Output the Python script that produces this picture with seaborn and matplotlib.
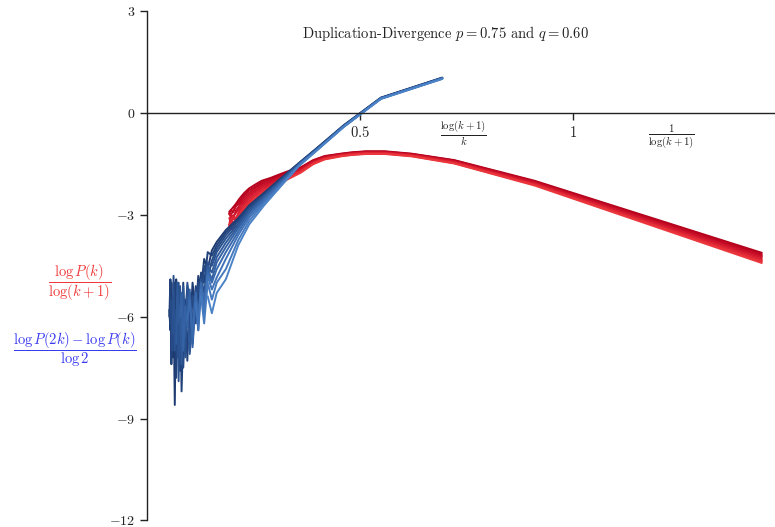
import numpy as np
import pandas as pd
import matplotlib
matplotlib.use("Agg")
import matplotlib.pyplot as plt
import seaborn as sns

# ---------------- data ----------------
title_text = r"Duplication-Divergence $p=0.75$ and $q=0.60$"
yticks = [-12, -9, -6, -3, 0, 3]
ytick_labels = [r"$-12$", r"$-9$", r"$-6$", r"$-3$", r"$0$", r"$3$"]
xticks = [0.5, 1.0]
xtick_labels = [r"$0.5$", r"$1$"]

# blue: x = log(k+1)/k  (k = 1,2,3,4,5,6,8,10,12,15,18,20,22,...,85)
blue_x = [0.693, 0.549, 0.462, 0.402, 0.358, 0.324, 0.275, 0.240, 0.214, 0.185,
          0.1636, 0.1522, 0.1425, 0.1341, 0.1268, 0.1203, 0.1145, 0.1069, 0.1003, 0.0946,
          0.0896, 0.0851, 0.0811, 0.0775, 0.0742, 0.0712, 0.0685, 0.0652, 0.0623, 0.0596,
          0.0572, 0.0549, 0.0524]
blue_1 = [1.04, 0.45, -0.36, -1.0, -1.46, -1.82, -2.35, -2.72, -3.1, -3.45, -3.8, -4.05,
          -4.6, -4.3, -5.2, -4.8, -5.9, -5.0, -6.5, -5.2, -7.0, -5.0, -6.2, -7.6, -5.3,
          -6.8, -4.9, -8.6, -5.6, -7.2, -5.0, -6.4, -5.8]
blue_2 = [1.03, 0.44, -0.37, -1.01, -1.47, -1.84, -2.38, -2.76, -3.15, -3.52, -3.9, -4.2,
          -4.1, -5.0, -4.7, -5.6, -5.1, -6.6, -5.3, -7.3, -5.5, -6.4, -8.2, -5.2, -7.0,
          -5.6, -7.8, -5.0, -6.6, -5.4, -7.4, -4.9, -6.0]
blue_3 = [1.03, 0.44, -0.38, -1.02, -1.48, -1.86, -2.41, -2.8, -3.2, -3.6, -4.0, -4.35,
          -4.9, -4.5, -5.6, -5.0, -6.2, -5.4, -7.0, -5.1, -6.0, -7.5, -5.4, -6.3, -5.0,
          -7.2, -5.8, -6.6, -4.8, -7.0, -5.5, -6.2]
blue_4 = [1.02, 0.43, -0.38, -1.03, -1.49, -1.88, -2.44, -2.85, -3.27, -3.7, -4.1, -4.5,
          -4.4, -5.3, -4.9, -6.0, -5.2, -6.8, -5.6, -5.0, -7.2, -5.5, -6.4, -5.1, -7.9,
          -5.6, -6.0, -7.0, -5.2, -6.5]
blue_5 = [1.02, 0.43, -0.39, -1.04, -1.5, -1.9, -2.47, -2.9, -3.33, -3.82, -4.25, -4.7,
          -4.5, -5.6, -5.0, -6.4, -5.3, -6.0, -7.1, -5.4, -6.6, -5.1, -7.4, -5.7, -6.2,
          -5.0, -6.8]
blue_6 = [1.02, 0.43, -0.39, -1.04, -1.51, -1.92, -2.5, -2.95, -3.4, -3.95, -4.4, -4.9,
          -4.6, -5.8, -5.1, -6.1, -5.4, -6.9, -5.2, -6.3, -5.7, -7.0, -5.3, -6.0]
blue_7 = [1.01, 0.42, -0.4, -1.05, -1.52, -1.95, -2.55, -3.0, -3.5, -4.1, -4.6, -5.0,
          -4.7, -5.6, -5.0, -6.2, -5.3, -6.6, -5.5, -6.1]
blue_8 = [1.01, 0.42, -0.4, -1.06, -1.53, -1.97, -2.6, -3.08, -3.6, -4.3, -4.85, -5.2,
          -4.8, -5.9, -5.2, -6.4, -5.6]
blue_9 = [1.01, 0.42, -0.41, -1.06, -1.54, -2.0, -2.65, -3.18, -3.75, -4.6, -5.0, -5.5,
          -5.0, -6.2, -5.4]
blue_10 = [1.0, 0.41, -0.41, -1.07, -1.55, -2.02, -2.72, -3.28, -3.9, -4.9, -5.3, -5.9,
           -5.4]
blue_series = [blue_1, blue_2, blue_3, blue_4, blue_5, blue_6, blue_7, blue_8, blue_9, blue_10]
blue_colors = ["#1d3b70", "#21427a", "#254a85", "#2a5290", "#2f5a9a",
               "#3462a4", "#3a6aae", "#4072b8", "#467abe", "#4c82c6"]

# red: x = 1/log(k+1)  (k = 1,2,3,4,5,6,7,8,10,12,15,20,25,30,40,50,65,80,100,120,140,160,175)
red_x = [1.443, 0.910, 0.721, 0.621, 0.558, 0.514, 0.481, 0.455, 0.417, 0.390, 0.361,
         0.328, 0.307, 0.291, 0.269, 0.254, 0.239, 0.228, 0.2167, 0.2085, 0.2021, 0.1968, 0.1931]
red_1 = [-4.12, -2.00, -1.39, -1.20, -1.13, -1.13, -1.16, -1.20, -1.27, -1.39, -1.60, -1.73,
         -1.83, -1.91, -2.00, -2.11, -2.23, -2.36, -2.53, -2.68, -2.78, -2.86, -2.91]
red_2 = [-4.16, -2.02, -1.40, -1.21, -1.14, -1.14, -1.17, -1.21, -1.28, -1.41, -1.62, -1.76,
         -1.87, -1.95, -2.05, -2.17, -2.29, -2.43, -2.60, -2.75, -2.92, -2.86, -2.97]
red_3 = [-4.20, -2.04, -1.42, -1.22, -1.15, -1.15, -1.18, -1.22, -1.30, -1.42, -1.64, -1.79,
         -1.91, -2.00, -2.10, -2.22, -2.36, -2.50, -2.67, -2.74, -2.91, -2.99, -2.95]
red_4 = [-4.23, -2.05, -1.43, -1.23, -1.16, -1.16, -1.19, -1.23, -1.31, -1.44, -1.66, -1.82,
         -1.94, -2.04, -2.15, -2.28, -2.42, -2.56, -2.73, -2.88, -3.12, -3.06, -2.98]
red_5 = [-4.27, -2.07, -1.44, -1.24, -1.17, -1.17, -1.20, -1.24, -1.32, -1.45, -1.68, -1.85,
         -1.98, -2.08, -2.20, -2.33, -2.48, -2.63, -2.80, -2.95, -3.04, -3.00, -3.30]
red_6 = [-4.31, -2.09, -1.45, -1.25, -1.18, -1.18, -1.21, -1.25, -1.33, -1.47, -1.70, -1.88,
         -2.02, -2.12, -2.25, -2.39, -2.54, -2.70, -2.87, -3.14, -3.11, -3.19, -3.10]
red_7 = [-4.35, -2.11, -1.47, -1.26, -1.19, -1.19, -1.22, -1.26, -1.35, -1.48, -1.72, -1.91,
         -2.06, -2.17, -2.30, -2.44, -2.61, -2.77, -2.94, -3.09, -3.05, -3.38, -3.29]
red_8 = [-4.38, -2.12, -1.48, -1.27, -1.20, -1.20, -1.23, -1.27, -1.36, -1.50, -1.74, -1.94,
         -2.09, -2.21, -2.35, -2.50, -2.67, -2.83, -3.00, -3.15, -3.24, -3.20, -3.35]
red_9 = [-4.42, -2.14, -1.49, -1.28, -1.21, -1.21, -1.24, -1.28, -1.37, -1.51, -1.76, -1.97,
         -2.13, -2.25, -2.40, -2.55, -2.73, -2.90, -3.07, -3.22, -3.45, -3.38, -3.30]
red_series = [red_1, red_2, red_3, red_4, red_5, red_6, red_7, red_8, red_9]
red_colors = ["#b3001b", "#ba0520", "#c20a24", "#c91028", "#d0162d",
              "#d81e31", "#df2634", "#e52e38", "#eb363c"]

label_red = r"$\dfrac{\log P(k)}{\log(k+1)}$"
label_blue = r"$\dfrac{\log P(2k)-\log P(k)}{\log 2}$"
label_x1 = r"$\frac{\log(k+1)}{k}$"
label_x2 = r"$\frac{1}{\log(k+1)}$"

# ---------------- build tables ----------------
rows = []
for i, ys in enumerate(red_series):
    for j, y in enumerate(ys):
        rows.append({"curve": f"r{i}", "x": red_x[j], "y": y})
red_df = pd.DataFrame(rows)
rows = []
for i, ys in enumerate(blue_series):
    for j, y in enumerate(ys):
        rows.append({"curve": f"b{i}", "x": blue_x[j], "y": y})
blue_df = pd.DataFrame(rows)

# ---------------- style ----------------
sns.set_style("white")
plt.rcParams["font.family"] = ["serif"]
plt.rcParams["font.serif"] = ["cmr10", "DejaVu Serif"]
plt.rcParams["mathtext.fontset"] = "cm"
plt.rcParams["axes.formatter.use_mathtext"] = True

fig = plt.figure(figsize=(7.75, 5.27), dpi=100)
ax = fig.add_axes([0.1897, 0.0125, 0.8103, 0.9666])

sns.lineplot(data=red_df, x="x", y="y", units="curve", hue="curve",
             palette=dict(zip([f"r{i}" for i in range(len(red_series))], red_colors)),
             estimator=None, sort=False, legend=False, lw=1.4, ax=ax)
sns.lineplot(data=blue_df, x="x", y="y", units="curve", hue="curve",
             palette=dict(zip([f"b{i}" for i in range(len(blue_series))], blue_colors)),
             estimator=None, sort=False, legend=False, lw=1.4, ax=ax)

ax.set_xlim(0, 1.474)
ax.set_ylim(-12, 3)
ax.spines["top"].set_visible(False)
ax.spines["right"].set_visible(False)
ax.spines["bottom"].set_position(("data", 0))
for s in ("left", "bottom"):
    ax.spines[s].set_color("#222222")
    ax.spines[s].set_linewidth(1.0)
ax.set_yticks(yticks)
ax.set_yticklabels(ytick_labels, fontsize=10)
ax.set_xticks(xticks)
ax.set_xticklabels(xtick_labels, fontsize=10.5)
ax.tick_params(axis="both", direction="out", length=5, width=1.0, color="#222222",
               labelcolor="#222222", left=True, bottom=True)
ax.set_xlabel("")
ax.set_ylabel("")

ax.text(0.70, 2.35, title_text, ha="center", va="center", fontsize=10.5, color="#222222")
ax.text(0.742, -0.62, label_x1, ha="center", va="center", fontsize=11, color="#222222")
ax.text(1.232, -0.72, label_x2, ha="center", va="center", fontsize=11, color="#222222")
fig.text(0.103, 0.463, label_red, ha="center", va="center", fontsize=10.5, color="#f03a3a")
fig.text(0.097, 0.336, label_blue, ha="center", va="center", fontsize=10.5, color="#3a3af0")

fig.savefig("out.png", dpi=100, facecolor="white")
